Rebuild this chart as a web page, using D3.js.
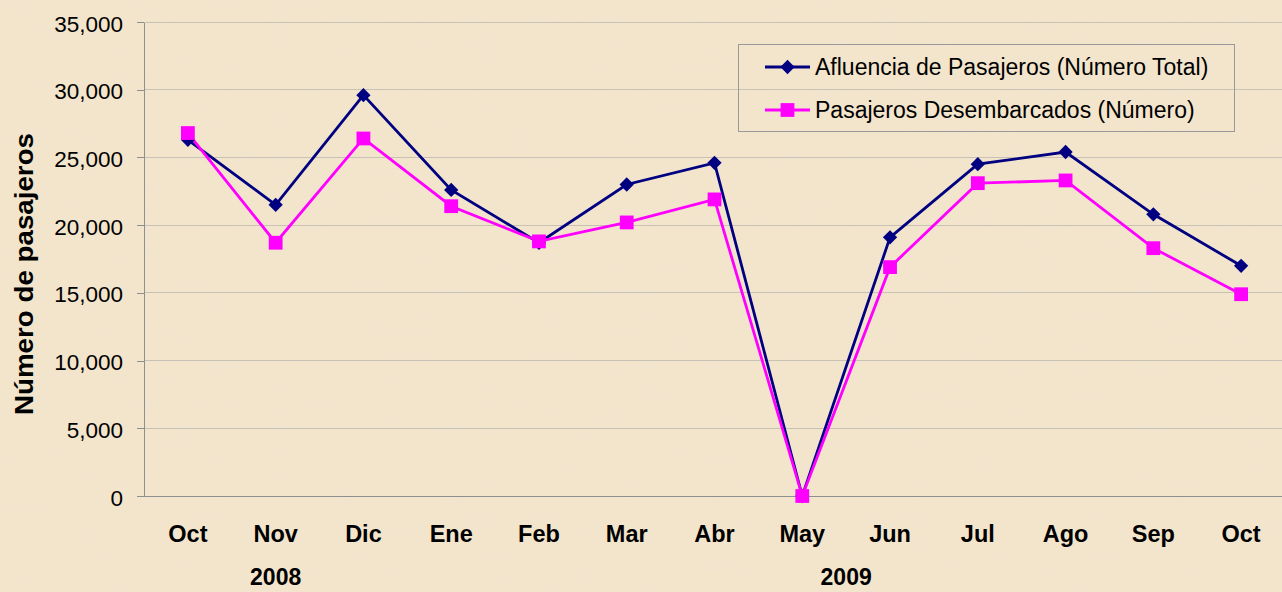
<!DOCTYPE html>
<meta charset="utf-8">
<style>
    body { margin: 0; background: #f2e3c9; }
    svg { display: block; font-family: Arial, "Liberation Sans", sans-serif; }
    .axis path, .axis line { fill: none; stroke: #8f8f8f; shape-rendering: crispEdges; }
    .grid line { stroke: #c8c2b6; shape-rendering: crispEdges; }
</style>
<body>
<div id="plotarea"></div>
<script src="https://cdn.jsdelivr.net/npm/d3@7/dist/d3.min.js"></script>
<script>

    var months = ["Oct", "Nov", "Dic", "Ene", "Feb", "Mar", "Abr", "May", "Jun", "Jul", "Ago", "Sep", "Oct"];
    var afluencia = [26300, 21500, 29600, 22600, 18700, 23000, 24600, 0, 19100, 24500, 25400, 20800, 17000];
    var desembarcados = [26800, 18700, 26400, 21400, 18800, 20200, 21900, 0, 16900, 23100, 23300, 18300, 14900];
    var seriesNames = ["Afluencia de Pasajeros (Número Total)", "Pasajeros Desembarcados (Número)"];
    var years = [{label: "2008", at: 1}, {label: "2009", at: 7.5}];
    var yTicks = [0, 5000, 10000, 15000, 20000, 25000, 30000, 35000];

    var W = 1282, H = 592;
    var margin = {top: 22, right: -3, bottom: 96, left: 144},
        width = W - margin.left - margin.right,
        height = H - margin.top - margin.bottom;

    var svg = d3.select("#plotarea").append("svg")
        .attr("width", W)
        .attr("height", H);

    // parchment texture
    var defs = svg.append("defs");
    var f = defs.append("filter").attr("id", "paper").attr("x", 0).attr("y", 0).attr("width", "100%").attr("height", "100%");
    f.append("feTurbulence").attr("type", "fractalNoise").attr("baseFrequency", "0.03 0.08").attr("numOctaves", 3).attr("seed", 4).attr("result", "n");
    f.append("feColorMatrix").attr("in", "n").attr("type", "matrix")
        .attr("values", "0 0 0 0 0.86  0 0 0 0 0.78  0 0 0 0 0.66  0 0 0 -0.9 0.5");
    svg.append("rect").attr("width", W).attr("height", H).attr("fill", "#f3e5cc");
    svg.append("rect").attr("width", W).attr("height", H).attr("filter", "url(#paper)").attr("opacity", 0.45);

    var g = svg.append("g").attr("transform", "translate(" + margin.left + "," + margin.top + ")");

    var x = d3.scaleBand().domain(d3.range(months.length)).range([0, width]);
    var xc = function(i) { return x(i) + x.bandwidth() / 2; };
    var y = d3.scaleLinear().domain([0, 35000]).range([height, 0]);

    g.append("g").attr("class", "grid")
        .selectAll("line").data(yTicks.slice(1)).enter().append("line")
        .attr("x1", 0).attr("x2", width)
        .attr("y1", function(d) { return y(d); }).attr("y2", function(d) { return y(d); });

    var yAxis = g.append("g").attr("class", "axis")
        .call(d3.axisLeft(y).tickValues(yTicks).tickSize(7).tickSizeOuter(0).tickPadding(14).tickFormat(d3.format(",")));
    yAxis.selectAll("text").style("font-size", "22.5px").attr("dy", "0.4em").attr("fill", "#000");

    var xAxis = g.append("g").attr("class", "axis")
        .attr("transform", "translate(0," + height + ")")
        .call(d3.axisBottom(x).tickSize(0).tickFormat(function(i) { return months[i]; }));
    xAxis.select(".domain").attr("d", "M-7,0.5H" + width);
    xAxis.selectAll("text").attr("dy", null).attr("y", 46)
        .style("font-size", "23.5px").style("font-weight", "bold").attr("fill", "#000");

    g.selectAll(".year").data(years).enter().append("text")
        .attr("class", "year")
        .attr("x", function(d) { return x(0) + x.bandwidth() * (d.at + 0.5); })
        .attr("y", height + 89)
        .attr("text-anchor", "middle")
        .style("font-size", "23px").style("font-weight", "bold")
        .text(function(d) { return d.label; });

    svg.append("text")
        .attr("transform", "translate(33,274) rotate(-90)")
        .attr("text-anchor", "middle")
        .attr("textLength", 282).attr("lengthAdjust", "spacingAndGlyphs")
        .style("font-size", "25px").style("font-weight", "bold")
        .text("Número de pasajeros");

    var line = d3.line().x(function(d, i) { return xc(i); }).y(function(d) { return y(d); });

    var diamond = d3.symbol().type(d3.symbolDiamond2).size(130);
    var square = d3.symbol().type(d3.symbolSquare).size(190);

    g.append("path").datum(afluencia).attr("d", line)
        .attr("fill", "none").attr("stroke", "#000080").attr("stroke-width", 2.8);
    g.append("path").datum(desembarcados).attr("d", line)
        .attr("fill", "none").attr("stroke", "#ff00ff").attr("stroke-width", 2.8);

    g.selectAll(".d1").data(afluencia).enter().append("path")
        .attr("transform", function(d, i) { return "translate(" + xc(i) + "," + y(d) + ")"; })
        .attr("d", diamond).attr("fill", "#000080");
    g.selectAll(".d2").data(desembarcados).enter().append("path")
        .attr("transform", function(d, i) { return "translate(" + xc(i) + "," + y(d) + ")"; })
        .attr("d", square).attr("fill", "#ff00ff");

    // legend
    var lg = svg.append("g").attr("transform", "translate(738,44)");
    lg.append("rect").attr("x", 0.5).attr("y", 0.5).attr("width", 496).attr("height", 87)
        .attr("fill", "none").attr("stroke", "#9a9a9a");
    var items = [
        {name: seriesNames[0], color: "#000080", sym: diamond, yy: 23},
        {name: seriesNames[1], color: "#ff00ff", sym: square, yy: 66}
    ];
    items.forEach(function(it) {
        lg.append("line").attr("x1", 27).attr("x2", 72).attr("y1", it.yy).attr("y2", it.yy)
            .attr("stroke", it.color).attr("stroke-width", 2.8);
        lg.append("path").attr("transform", "translate(49.5," + it.yy + ")").attr("d", it.sym).attr("fill", it.color);
        lg.append("text").attr("x", 77).attr("y", it.yy + 8).style("font-size", "23px").text(it.name);
    });

</script>
